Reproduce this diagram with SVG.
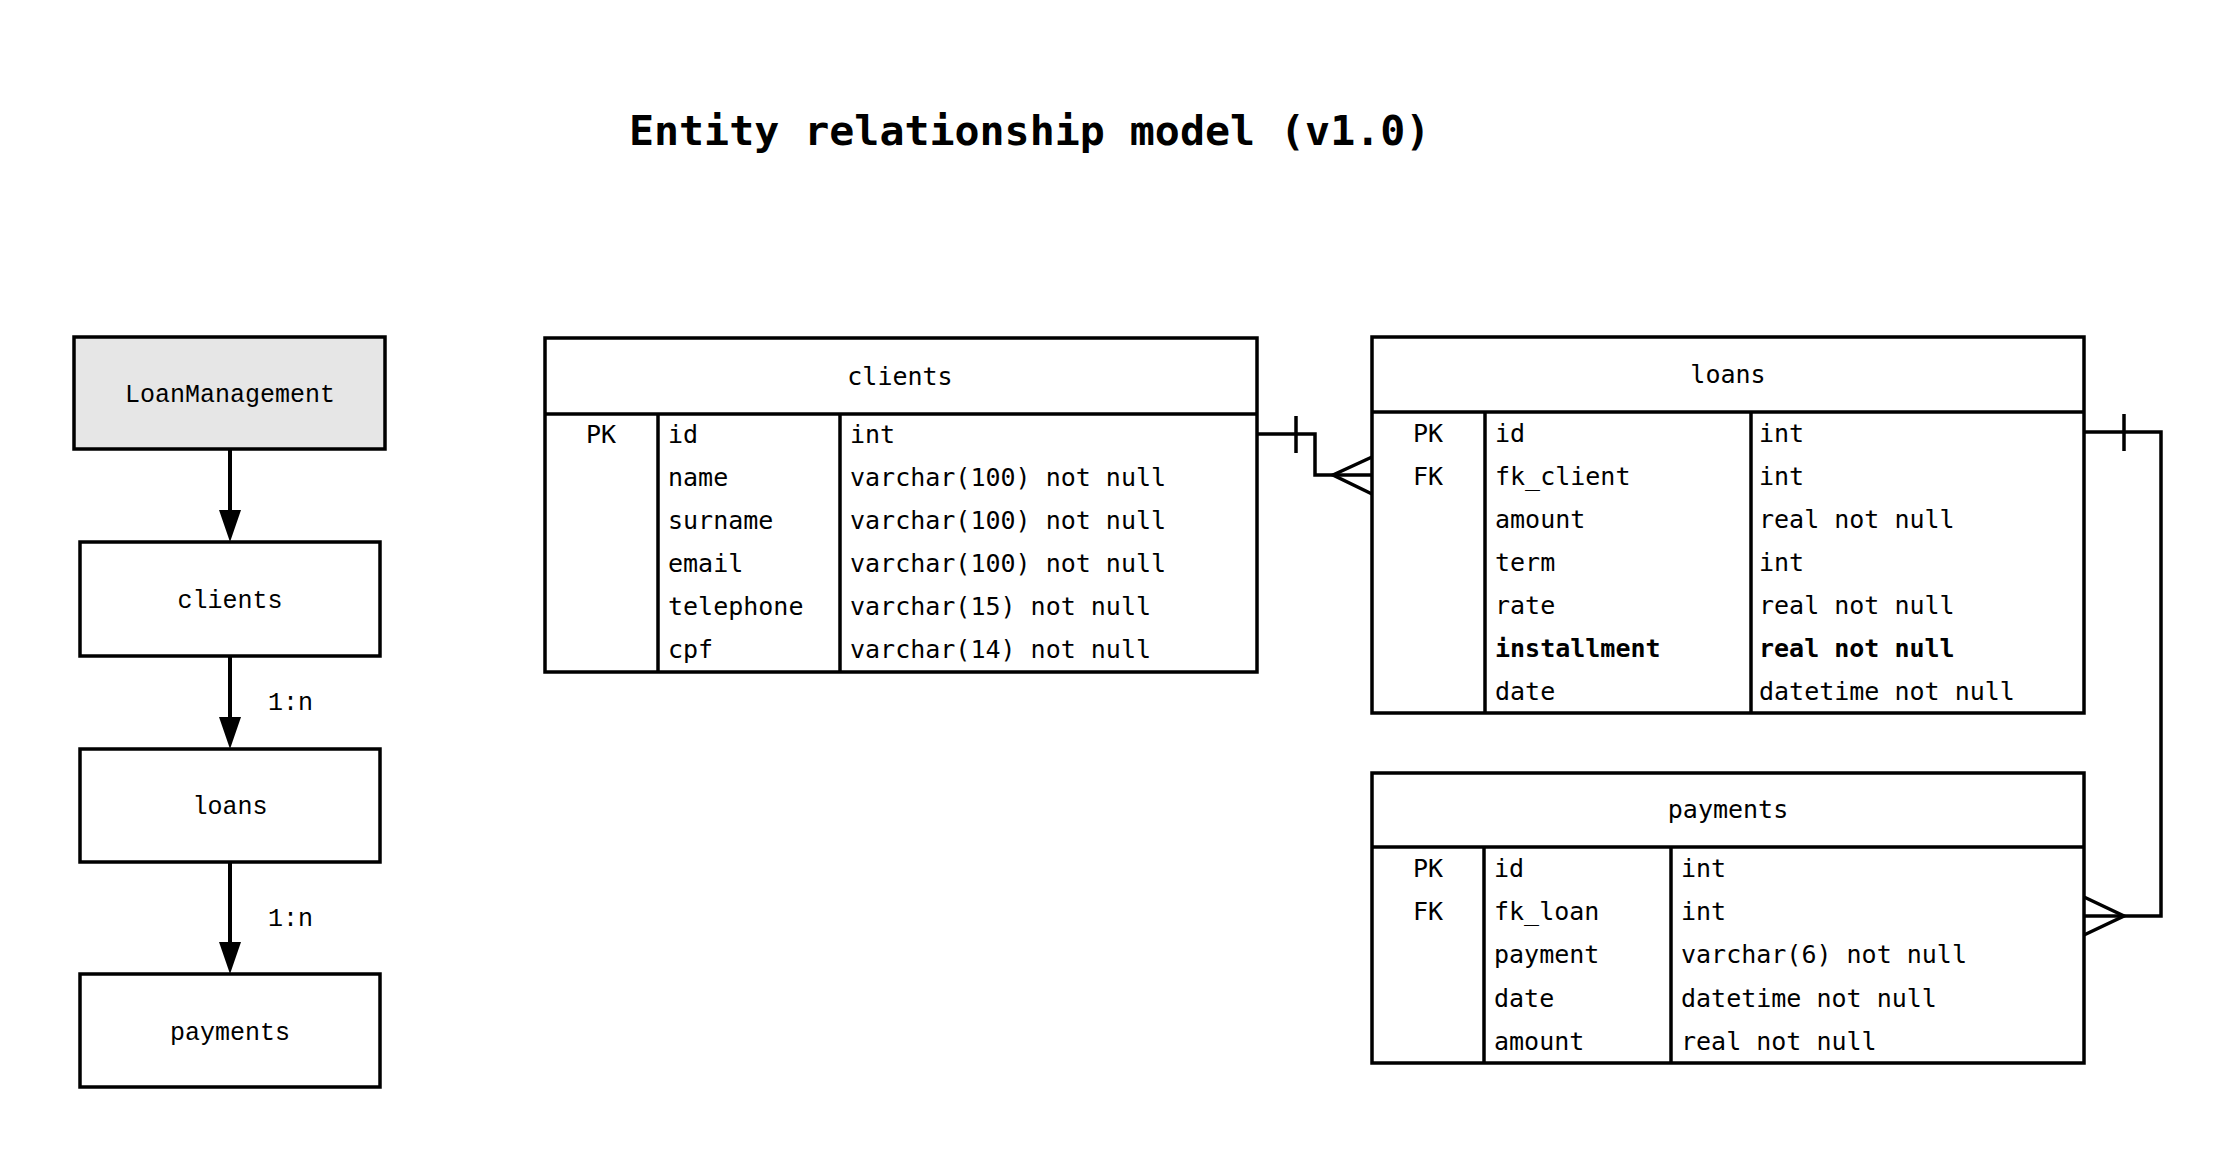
<svg xmlns="http://www.w3.org/2000/svg" width="2237" height="1163" viewBox="0 0 2237 1163">
<style>
  .bg { fill: #ffffff; }
  .box { fill: #ffffff; stroke: #000000; stroke-width: 3.5; }
  .root { fill: #e6e6e6; stroke: #000000; stroke-width: 3.5; }
  .tbl { fill: #ffffff; stroke: #000000; stroke-width: 3.5; }
  .sep { stroke: #000000; stroke-width: 3.5; fill: none; }
  .conn { stroke: #000000; stroke-width: 3.5; fill: none; }
  .flow { stroke: #000000; stroke-width: 4; fill: none; }
  .lbl { font-family: "Liberation Mono", "Courier New", monospace; font-size: 25px; fill: #000000; }
  .t { font-family: "DejaVu Sans Mono", "Liberation Mono", monospace; font-size: 25px; fill: #000000; }
  .c { text-anchor: middle; }
  .b { font-weight: bold; }
  .title { font-family: "DejaVu Sans Mono", "Liberation Mono", monospace; font-size: 41.6px; font-weight: bold; fill: #000000; }
</style>
<defs>
  <marker id="arrow" viewBox="0 0 32 22" refX="0" refY="11" markerWidth="32" markerHeight="22" markerUnits="userSpaceOnUse" orient="auto">
    <path d="M0,0 L32,11 L0,22 z" fill="#000000"/>
  </marker>
</defs>
<rect class="bg" x="0" y="0" width="2237" height="1163"/>

<text class="title" x="629" y="145">Entity relationship model (v1.0)</text>

<g id="node-loanmanagement">
  <rect class="root" x="74" y="337" width="311" height="112"/>
  <text class="lbl c" x="230" y="402">LoanManagement</text>
</g>
<g id="node-clients-box">
  <rect class="box" x="80" y="542" width="300" height="114"/>
  <text class="lbl c" x="230" y="608">clients</text>
</g>
<g id="node-loans-box">
  <rect class="box" x="80" y="749" width="300" height="113"/>
  <text class="lbl c" x="230" y="814">loans</text>
</g>
<g id="node-payments-box">
  <rect class="box" x="80" y="974" width="300" height="113"/>
  <text class="lbl c" x="230" y="1040">payments</text>
</g>

<g id="table-clients">
  <rect class="tbl" x="545" y="338" width="712" height="334"/>
  <line class="sep" x1="545" y1="414" x2="1257" y2="414"/>
  <line class="sep" x1="658" y1="414" x2="658" y2="672"/>
  <line class="sep" x1="840" y1="414" x2="840" y2="672"/>
  <text class="t c" x="900" y="385">clients</text>
  <text class="t c" x="601" y="443">PK</text>
  <text class="t" x="668" y="443">id</text>
  <text class="t" x="850" y="443">int</text>
  <text class="t" x="668" y="486">name</text>
  <text class="t" x="850" y="486">varchar(100) not null</text>
  <text class="t" x="668" y="529">surname</text>
  <text class="t" x="850" y="529">varchar(100) not null</text>
  <text class="t" x="668" y="572">email</text>
  <text class="t" x="850" y="572">varchar(100) not null</text>
  <text class="t" x="668" y="615">telephone</text>
  <text class="t" x="850" y="615">varchar(15) not null</text>
  <text class="t" x="668" y="658">cpf</text>
  <text class="t" x="850" y="658">varchar(14) not null</text>
</g>

<g id="table-loans">
  <rect class="tbl" x="1372" y="337" width="712" height="376"/>
  <line class="sep" x1="1372" y1="412" x2="2084" y2="412"/>
  <line class="sep" x1="1485" y1="412" x2="1485" y2="713"/>
  <line class="sep" x1="1751" y1="412" x2="1751" y2="713"/>
  <text class="t c" x="1728" y="383">loans</text>
  <text class="t c" x="1428" y="442">PK</text>
  <text class="t" x="1495" y="442">id</text>
  <text class="t" x="1759" y="442">int</text>
  <text class="t c" x="1428" y="485">FK</text>
  <text class="t" x="1495" y="485">fk_client</text>
  <text class="t" x="1759" y="485">int</text>
  <text class="t" x="1495" y="528">amount</text>
  <text class="t" x="1759" y="528">real not null</text>
  <text class="t" x="1495" y="571">term</text>
  <text class="t" x="1759" y="571">int</text>
  <text class="t" x="1495" y="614">rate</text>
  <text class="t" x="1759" y="614">real not null</text>
  <text class="t b" x="1495" y="657">installment</text>
  <text class="t b" x="1759" y="657">real not null</text>
  <text class="t" x="1495" y="700">date</text>
  <text class="t" x="1759" y="700">datetime not null</text>
</g>

<g id="table-payments">
  <rect class="tbl" x="1372" y="773" width="712" height="290"/>
  <line class="sep" x1="1372" y1="847" x2="2084" y2="847"/>
  <line class="sep" x1="1484" y1="847" x2="1484" y2="1063"/>
  <line class="sep" x1="1671" y1="847" x2="1671" y2="1063"/>
  <text class="t c" x="1728" y="818">payments</text>
  <text class="t c" x="1428" y="877">PK</text>
  <text class="t" x="1494" y="877">id</text>
  <text class="t" x="1681" y="877">int</text>
  <text class="t c" x="1428" y="920">FK</text>
  <text class="t" x="1494" y="920">fk_loan</text>
  <text class="t" x="1681" y="920">int</text>
  <text class="t" x="1494" y="963">payment</text>
  <text class="t" x="1681" y="963">varchar(6) not null</text>
  <text class="t" x="1494" y="1007">date</text>
  <text class="t" x="1681" y="1007">datetime not null</text>
  <text class="t" x="1494" y="1050">amount</text>
  <text class="t" x="1681" y="1050">real not null</text>
</g>

<g id="connectors">
  <line class="flow" x1="230" y1="449" x2="230" y2="510" marker-end="url(#arrow)"/>
  <line class="flow" x1="230" y1="656" x2="230" y2="717" marker-end="url(#arrow)"/>
  <text class="lbl" x="268" y="710">1:n</text>
  <line class="flow" x1="230" y1="862" x2="230" y2="942" marker-end="url(#arrow)"/>
  <text class="lbl" x="268" y="926">1:n</text>

  <path class="conn" d="M1257,434 H1315 V475 H1372"/>
  <path class="conn" d="M1296,416 V453"/>
  <path class="conn" d="M1372,457 L1333,475 L1372,494"/>

  <path class="conn" d="M2084,432 H2161 V916 H2084"/>
  <path class="conn" d="M2124,414 V451"/>
  <path class="conn" d="M2084,897 L2124,916 L2084,935"/>
</g>
</svg>
